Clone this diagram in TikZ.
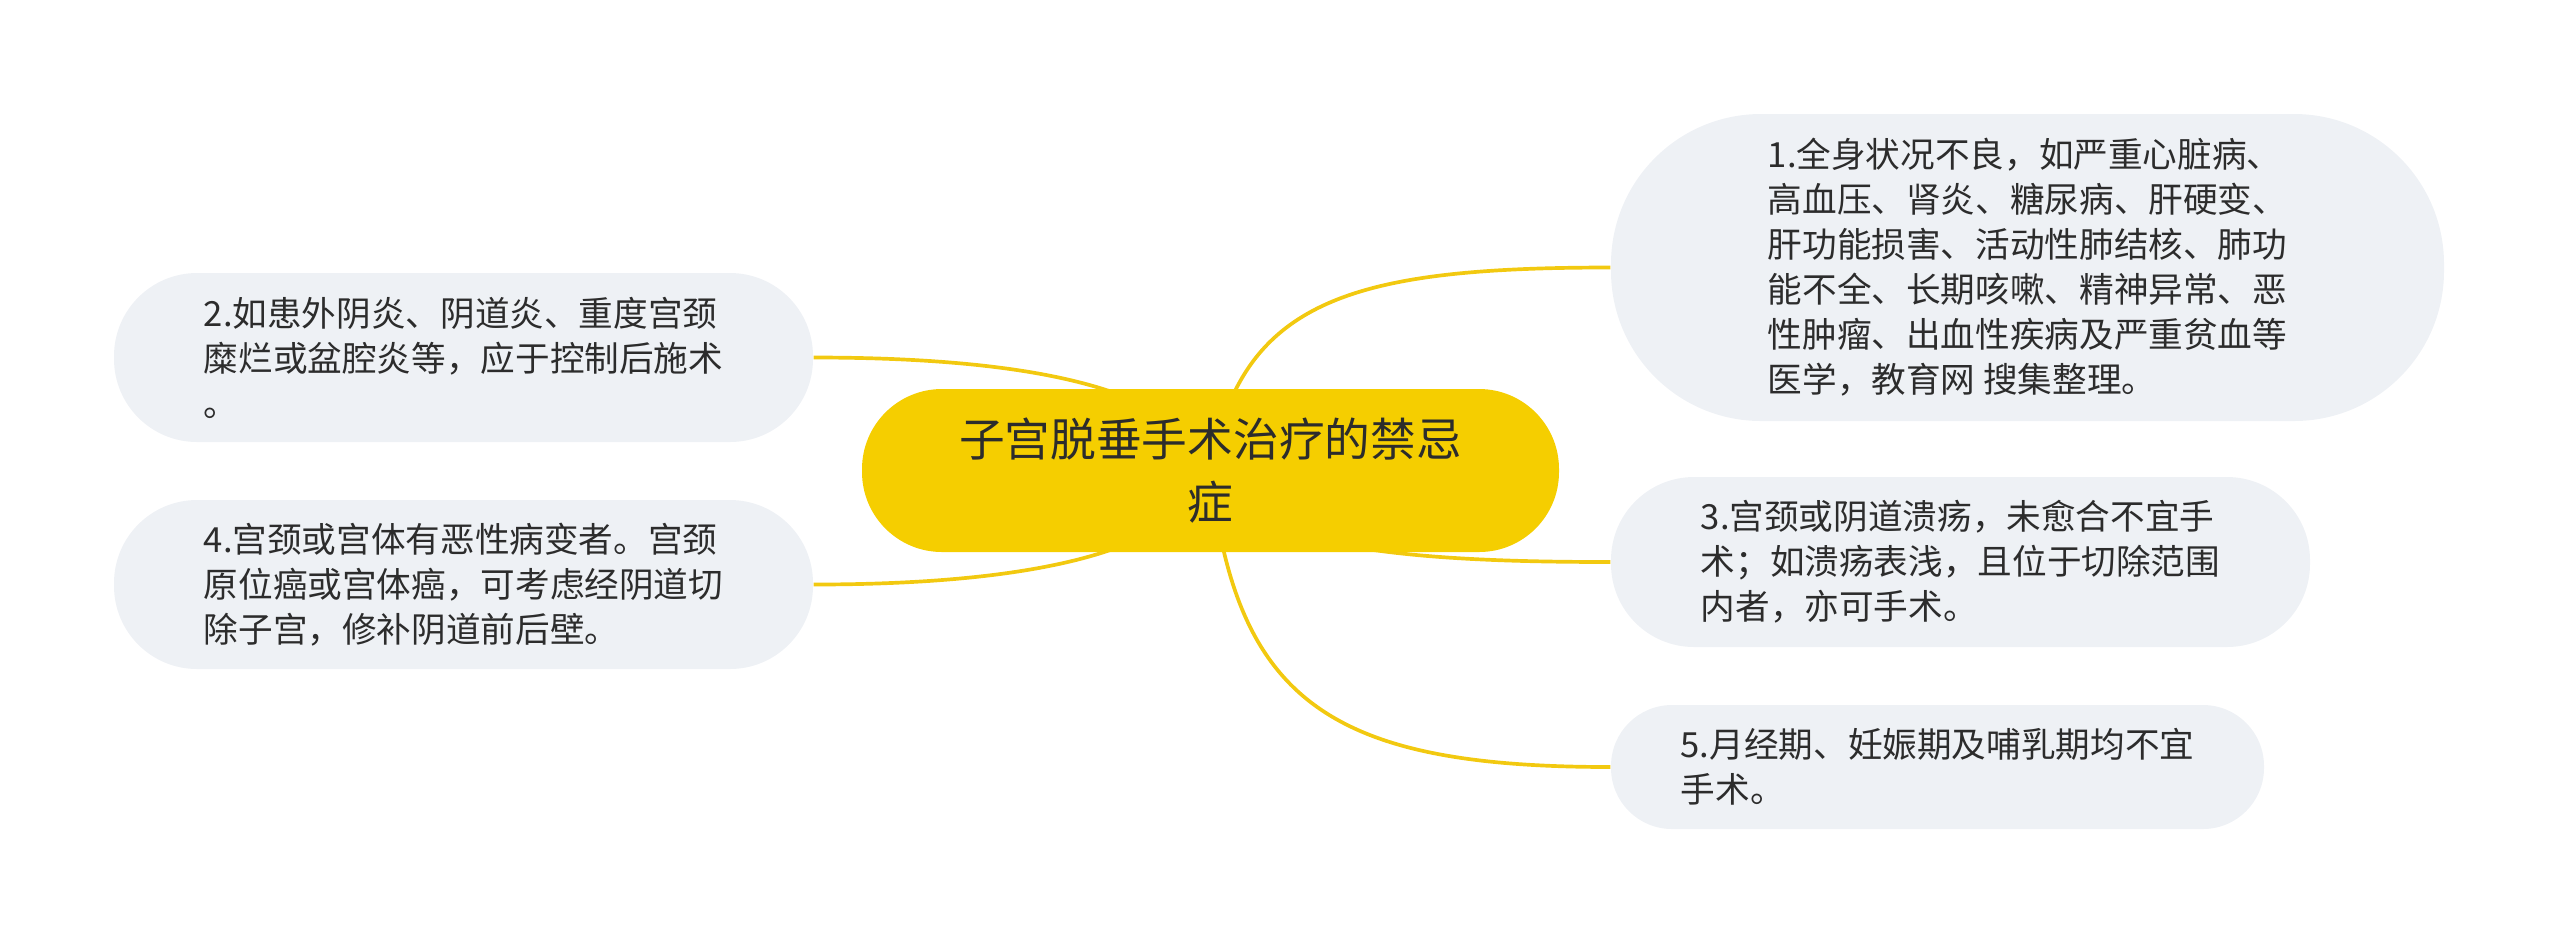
\documentclass[tikz,border=0pt]{standalone}
\usepackage{fontspec}
\setmainfont{Noto Sans CJK SC}
\usetikzlibrary{calc}
\definecolor{mainyellow}{RGB}{245,206,0}
\definecolor{lineyellow}{RGB}{242,201,16}
\definecolor{boxgray}{RGB}{238,241,245}
\definecolor{txt}{RGB}{44,44,44}
\pgfdeclarelayer{bg}
\pgfsetlayers{bg,main}
\tikzset{
  centralbox/.style={fill=mainyellow, draw=none, rounded corners=0.8cm, minimum width=6.97cm, minimum height=1.63cm, align=center, text=txt, font=\fontsize{13pt}{17.9pt}\selectfont, inner sep=0pt},
  sidebox/.style={fill=boxgray, draw=none, align=left, text=txt, font=\fontsize{9.85pt}{12.8pt}\selectfont, inner sep=0pt},
  link/.style={draw=lineyellow, line width=1.05pt}
}
\begin{document}
\begin{tikzpicture}
\useasboundingbox (0,0) rectangle (25.6,-9.43);
\node[centralbox] (c) at (12.105,-4.705) {子宫脱垂手术治疗的禁忌\\症};
\node[sidebox, minimum width=8.33cm, minimum height=3.07cm, rounded corners=1.5cm] (n1) at (20.275,-2.675)
  {1.全身状况不良，如严重心脏病、\\高血压、肾炎、糖尿病、肝硬变、\\肝功能损害、活动性肺结核、肺功\\能不全、长期咳嗽、精神异常、恶\\性肿瘤、出血性疾病及严重贫血等\\医学，教育网 搜集整理。};
\node[sidebox, minimum width=6.99cm, minimum height=1.69cm, rounded corners=0.83cm] (n2) at (4.635,-3.575)
  {2.如患外阴炎、阴道炎、重度宫颈\\糜烂或盆腔炎等，应于控制后施术\\。};
\node[sidebox, minimum width=6.99cm, minimum height=1.69cm, rounded corners=0.83cm] (n4) at (4.635,-5.845)
  {4.宫颈或宫体有恶性病变者。宫颈\\原位癌或宫体癌，可考虑经阴道切\\除子宫，修补阴道前后壁。};
\node[sidebox, minimum width=6.99cm, minimum height=1.70cm, rounded corners=0.83cm] (n3) at (19.605,-5.62)
  {3.宫颈或阴道溃疡，未愈合不宜手\\术；如溃疡表浅，且位于切除范围\\内者，亦可手术。};
\node[sidebox, minimum width=6.53cm, minimum height=1.24cm, rounded corners=0.61cm] (n5) at (19.375,-7.67)
  {5.月经期、妊娠期及哺乳期均不宜\\手术。};
\begin{pgfonlayer}{bg}
\draw[link] (c.center) .. controls ($(c.center)+(0.30,1.70)$) and ($(n1.west)+(-2.61,0)$) .. (n1.west);
\draw[link] (c.center) .. controls ($(c.center)+(-0.30,0.90)$) and ($(n2.east)+(1.87,0)$) .. (n2.east);
\draw[link] (c.center) .. controls ($(c.center)+(-0.30,-0.90)$) and ($(n4.east)+(1.87,0)$) .. (n4.east);
\draw[link] (c.center) .. controls ($(c.center)+(0.30,-0.80)$) and ($(n3.west)+(-1.91,0)$) .. (n3.west);
\draw[link] (c.center) .. controls ($(c.center)+(0.25,-2.30)$) and ($(n5.west)+(-2.81,0)$) .. (n5.west);
\end{pgfonlayer}
\end{tikzpicture}
\end{document}
